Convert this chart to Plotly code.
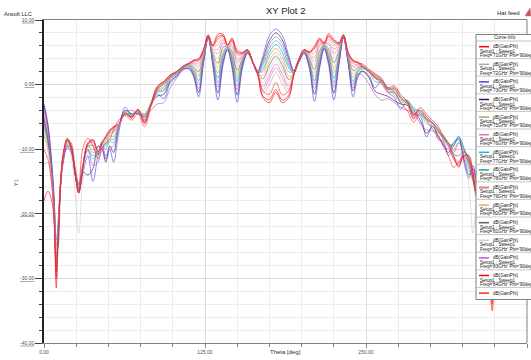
import plotly.graph_objects as go

# Far-field cut: dB(GainPhi) versus Theta for a frequency sweep (Phi = 90deg)
theta = [0, 3, 6, 8, 9.5, 11, 13, 15, 18, 21, 24, 27, 30, 34, 38, 42, 45, 48, 51, 54, 58, 63, 68, 73, 78, 83, 88, 93, 98, 103, 108, 113,
         116.5, 120, 124, 127.5, 131, 135, 139, 142.5, 146, 150, 154, 158, 162, 166, 170, 175, 180, 185, 190, 194, 198, 202, 206, 210, 214, 217.5, 221, 225, 229, 232.5, 236, 240, 243.5,
         247, 252, 257, 262, 267, 272, 277, 282, 287, 292, 297, 302, 306, 310, 314, 318, 322, 326, 330, 333, 336, 339, 342, 345, 348, 350.5, 353, 356, 360]

gain_71 = [-5.0, -8.5, -14.0, -21.0, -31.5, -24.0, -15.0, -11.0, -8.3, -9.5, -13.5, -16.8, -13.0, -9.0, -8.5, -10.5, -9.0, -8.0, -7.0, -6.5, -6.2, -4.5, -5.2, -3.8, -6.0, -3.0, -0.3, 0.5, 1.5, 2.0, 2.8, 3.3,
           3.8, 4.0, 5.5, 7.7, 6.1, 7.8, 7.8, 6.1, 7.2, 5.3, 5.0, 5.4, 3.5, 1.5, -2.0, -2.8, -1.2, -2.8, -2.0, 1.5, 4.0, 5.4, 5.1, 6.0, 7.2, 6.5, 7.9, 7.0, 6.5, 7.7, 5.0, 3.8, 3.5,
           3.0, 2.2, 1.5, 0.8, -0.8, -0.5, -2.0, -3.0, -5.3, -4.0, -5.0, -6.0, -7.0, -8.5, -9.5, -11.5, -12.5, -10.5, -11.5, -14.0, -17.0, -15.5, -19.0, -26.0, -34.0, -22.0, -13.0, -8.0, -5.0]
gain_72 = [-4.5, -7.8, -13.5, -20.5, -30.0, -23.5, -15.0, -11.0, -8.4, -9.5, -13.5, -16.7, -13.0, -9.1, -8.6, -10.5, -9.0, -8.1, -7.0, -6.6, -6.2, -4.5, -5.1, -3.8, -5.9, -3.0, -0.4, 0.4, 1.4, 2.0, 2.8, 3.2,
           3.6, 3.6, 5.4, 7.6, 5.8, 6.3, 7.2, 6.0, 6.6, 4.5, 4.7, 5.4, 3.5, 1.6, -1.3, 0.0, 1.8, 0.1, -1.3, 1.5, 3.9, 5.4, 4.9, 4.9, 6.6, 6.4, 7.0, 6.2, 6.3, 7.7, 5.0, 3.5, 3.3,
           3.0, 2.2, 1.5, 0.8, -0.8, -0.5, -2.0, -3.0, -5.2, -4.0, -5.0, -6.0, -7.0, -8.5, -9.5, -11.4, -12.4, -10.5, -11.4, -14.0, -17.0, -15.5, -19.0, -26.0, -33.5, -22.0, -13.0, -8.0, -4.5]
gain_73 = [-3.0, -6.0, -12.0, -18.0, -26.0, -25.0, -15.5, -12.0, -9.8, -10.5, -13.5, -16.5, -14.0, -11.0, -15.0, -11.0, -9.5, -11.5, -10.0, -12.0, -7.5, -3.5, -4.8, -4.2, -5.5, -3.2, -1.5, -2.2, 0.3, 1.2, 2.5, 2.3,
           1.0, -1.9, 3.5, 7.2, 3.0, -2.4, 3.0, 5.5, 2.5, -2.7, 2.5, 4.8, 3.5, 2.2, 4.5, 7.6, 8.6, 7.6, 4.5, 2.2, 3.5, 4.8, 2.5, -2.6, 2.5, 5.5, 3.0, -2.4, 3.0, 7.2, 3.5, -1.9, 1.0,
           2.0, 1.5, -0.5, 0.5, -1.2, -2.0, -3.8, -2.5, -4.5, -4.8, -8.1, -6.0, -8.5, -8.8, -11.0, -9.5, -8.1, -12.0, -14.5, -12.5, -15.0, -18.0, -23.0, -28.0, -24.0, -17.0, -11.0, -6.5, -3.5]
gain_74 = [-3.3, -6.5, -12.5, -18.5, -27.0, -22.5, -15.0, -11.5, -9.5, -10.2, -13.8, -16.2, -13.5, -14.0, -13.0, -9.5, -10.0, -12.0, -9.5, -10.5, -6.5, -4.0, -4.5, -4.5, -5.0, -3.0, -1.8, -1.5, 0.5, 1.4, 2.4, 2.5,
           1.3, -1.2, 3.7, 7.3, 3.4, -1.3, 3.5, 5.4, 3.0, -1.6, 2.8, 4.9, 3.5, 2.0, 3.9, 6.8, 8.0, 6.9, 4.0, 2.1, 3.6, 4.9, 2.8, -1.5, 3.0, 5.6, 3.5, -1.3, 3.4, 7.3, 3.7, -1.0, 1.4,
           2.1, 1.2, -1.0, -1.5, -1.8, -2.5, -3.0, -3.2, -4.0, -5.5, -7.5, -6.5, -8.0, -9.2, -10.5, -9.0, -8.5, -11.5, -14.0, -13.0, -15.5, -19.0, -24.0, -29.0, -25.0, -17.5, -11.5, -7.0, -3.8]
gain_75 = [-12.5, -12.0, -15.0, -20.0, -25.0, -21.5, -14.5, -10.8, -9.0, -10.0, -13.0, -15.8, -12.5, -9.5, -10.5, -10.5, -8.8, -9.2, -8.0, -8.0, -6.3, -4.5, -4.6, -4.0, -4.5, -2.8, -0.8, -0.5, 1.2, 1.8, 2.7, 3.0,
           2.3, 1.2, 4.5, 7.5, 4.3, 1.8, 5.0, 5.8, 4.4, 1.1, 3.7, 5.2, 3.5, 1.9, 2.0, 4.4, 5.6, 4.3, 2.0, 1.8, 3.8, 5.2, 3.5, 1.2, 4.4, 6.0, 4.8, 1.8, 4.6, 7.5, 4.3, 1.1, 2.2,
           2.7, 2.0, 1.2, 0.4, -0.6, -1.0, -2.2, -2.8, -4.0, -4.0, -5.2, -6.2, -6.8, -8.0, -9.0, -10.0, -9.0, -10.0, -12.0, -15.0, -16.0, -16.5, -20.0, -25.0, -30.0, -20.5, -13.0, -8.0, -6.5]
gain_76 = [-5.0, -8.0, -13.5, -20.5, -28.0, -23.0, -15.2, -11.0, -8.6, -9.6, -13.5, -16.5, -13.0, -9.3, -9.0, -10.5, -9.0, -8.3, -7.2, -6.8, -6.2, -4.5, -5.0, -3.9, -5.6, -3.0, -0.5, 0.3, 1.3, 1.9, 2.8, 3.2,
           3.2, 2.8, 5.1, 7.6, 5.3, 4.8, 6.5, 6.0, 5.8, 3.4, 4.4, 5.3, 3.5, 1.6, -0.3, 1.5, 3.2, 1.6, -0.3, 1.6, 3.9, 5.3, 4.5, 3.6, 6.0, 6.3, 6.2, 4.8, 5.9, 7.6, 4.8, 2.8, 3.0,
           2.9, 2.2, 1.3, 0.7, -0.7, -0.6, -2.1, -2.9, -5.0, -4.0, -5.0, -6.0, -7.2, -8.4, -9.6, -11.2, -12.0, -10.5, -11.3, -14.0, -17.0, -15.5, -19.5, -26.0, -32.0, -21.5, -13.0, -8.0, -5.0]
gain_77 = [-6.5, -9.0, -14.0, -19.5, -24.0, -21.0, -14.5, -11.0, -9.0, -9.8, -13.0, -15.5, -12.8, -10.3, -11.5, -10.5, -9.2, -10.0, -8.8, -9.0, -6.5, -4.5, -4.6, -4.3, -4.8, -3.0, -1.2, -1.0, 0.8, 1.6, 2.6, 2.8,
           1.8, 0.0, 4.0, 7.4, 3.9, 0.3, 4.3, 5.6, 3.7, -0.2, 3.2, 5.1, 3.5, 1.7, 3.0, 5.6, 6.8, 5.7, 3.0, 1.8, 3.7, 5.1, 3.2, 0.0, 3.7, 5.8, 4.2, 0.3, 4.1, 7.4, 4.0, 0.0, 1.8,
           2.4, 2.0, 0.5, 0.2, -0.8, -1.6, -2.8, -2.6, -3.8, -4.5, -6.0, -6.5, -7.5, -8.0, -9.5, -9.0, -8.0, -10.0, -13.0, -14.0, -15.0, -17.5, -22.0, -27.0, -27.5, -19.0, -12.0, -8.0, -6.0]
gain_78 = [-6.0, -8.8, -13.5, -19.0, -26.0, -22.0, -15.0, -11.2, -8.9, -9.8, -13.5, -16.0, -13.0, -10.0, -11.0, -10.8, -9.0, -9.5, -8.5, -8.5, -6.5, -4.3, -4.8, -4.0, -5.0, -3.2, -1.0, -0.8, 1.0, 1.7, 2.7, 2.9,
           2.1, 0.6, 4.3, 7.5, 4.0, 1.0, 4.6, 5.8, 4.1, 0.5, 3.5, 5.2, 3.5, 1.9, 2.4, 5.0, 6.2, 5.0, 2.6, 1.8, 3.8, 5.2, 3.3, 0.6, 4.0, 6.0, 4.5, 1.0, 4.3, 7.5, 4.1, 0.5, 2.0,
           2.6, 2.2, 1.0, 0.6, -0.5, -1.2, -2.5, -2.4, -3.6, -4.2, -5.5, -6.0, -7.2, -7.8, -9.2, -9.4, -8.2, -9.8, -12.5, -14.5, -15.8, -17.0, -21.0, -26.0, -28.5, -20.0, -12.5, -7.5, -5.5]
gain_79 = [-8.0, -10.0, -15.0, -21.0, -27.0, -23.0, -15.0, -11.0, -8.5, -9.6, -13.5, -16.6, -13.0, -9.2, -8.8, -10.5, -9.0, -8.2, -7.1, -6.7, -6.2, -4.5, -5.1, -3.8, -5.8, -3.0, -0.4, 0.4, 1.4, 1.9, 2.8, 3.2,
           3.4, 3.2, 5.3, 7.6, 5.5, 5.5, 6.9, 6.0, 6.2, 3.9, 4.5, 5.3, 3.5, 1.6, -0.8, 0.9, 2.6, 1.0, -0.8, 1.6, 3.9, 5.3, 4.7, 4.2, 6.3, 6.3, 6.5, 5.5, 6.1, 7.6, 4.9, 3.2, 3.1,
           2.9, 2.2, 1.4, 0.7, -0.7, -0.5, -2.0, -3.0, -5.1, -4.0, -5.0, -6.0, -7.0, -8.5, -9.4, -11.3, -12.2, -10.5, -11.3, -14.0, -17.0, -15.5, -19.5, -26.5, -33.0, -22.0, -13.0, -8.0, -7.5]
gain_80 = [-7.0, -9.5, -14.5, -20.0, -27.0, -22.5, -15.0, -11.0, -8.8, -9.7, -13.3, -16.3, -13.0, -9.6, -10.0, -10.6, -9.0, -9.0, -7.8, -7.5, -6.5, -4.3, -5.0, -4.1, -5.2, -3.0, -0.8, -0.3, 1.1, 1.8, 2.8, 3.0,
           2.5, 1.5, 4.6, 7.5, 4.6, 2.6, 5.4, 5.8, 4.8, 1.6, 3.8, 5.2, 3.5, 1.8, 1.4, 3.6, 5.0, 3.7, 1.3, 1.8, 3.8, 5.2, 3.8, 1.8, 4.8, 6.0, 5.2, 2.6, 4.9, 7.5, 4.5, 1.6, 2.4,
           2.8, 2.0, 1.0, 0.5, -0.7, -0.8, -2.2, -2.6, -4.3, -4.2, -5.6, -6.0, -7.0, -8.2, -9.4, -10.3, -10.0, -10.5, -11.8, -15.0, -16.5, -16.0, -19.5, -25.5, -31.0, -21.0, -12.5, -7.8, -6.0]
gain_81 = [-5.5, -8.5, -14.0, -20.5, -29.0, -23.0, -15.0, -10.8, -8.7, -9.7, -13.5, -16.5, -13.0, -9.5, -9.5, -10.8, -9.0, -8.6, -7.5, -7.2, -6.3, -4.4, -5.0, -4.0, -5.4, -3.0, -0.6, 0.0, 1.2, 1.9, 2.8, 3.1,
           2.7, 2.0, 4.8, 7.5, 4.8, 3.3, 5.8, 5.9, 5.1, 2.2, 4.0, 5.3, 3.5, 1.8, 0.9, 3.0, 4.4, 3.0, 0.8, 1.7, 3.8, 5.3, 4.0, 2.4, 5.2, 6.1, 5.5, 3.4, 5.2, 7.6, 4.6, 2.2, 2.6,
           2.8, 2.1, 1.2, 0.6, -0.6, -0.7, -2.0, -2.8, -4.6, -4.0, -5.3, -6.0, -7.2, -8.3, -9.4, -10.8, -11.0, -10.3, -11.5, -14.5, -16.8, -16.0, -20.0, -27.0, -31.5, -21.0, -12.8, -7.5, -5.5]
gain_82 = [-7.5, -10.0, -15.0, -21.0, -26.0, -22.0, -14.8, -11.0, -8.8, -11.0, -16.0, -23.0, -15.0, -9.8, -9.3, -10.5, -9.0, -8.5, -7.3, -7.0, -6.2, -4.5, -4.9, -3.9, -5.5, -3.0, -0.5, 0.2, 1.3, 1.9, 2.8, 3.1,
           3.0, 2.4, 5.0, 7.6, 5.1, 4.0, 6.2, 5.9, 5.5, 2.8, 4.2, 5.3, 3.5, 1.7, 0.3, 2.2, 3.8, 2.3, 0.2, 1.7, 3.9, 5.3, 4.3, 3.0, 5.6, 6.2, 5.8, 4.0, 5.5, 7.6, 4.7, 2.7, 2.8,
           2.9, 2.2, 1.4, 0.8, -0.5, -0.6, -2.0, -2.9, -4.8, -4.0, -5.2, -6.2, -7.3, -8.5, -9.5, -11.0, -11.8, -12.0, -16.0, -23.0, -18.0, -15.5, -19.0, -25.0, -29.0, -21.5, -13.0, -8.5, -7.0]
gain_83 = [-4.0, -7.0, -13.0, -19.0, -28.0, -23.0, -15.5, -11.8, -9.3, -10.0, -13.2, -16.0, -12.5, -10.0, -12.5, -12.0, -9.0, -11.0, -9.8, -9.5, -6.8, -4.2, -4.0, -4.6, -4.6, -4.0, -3.0, -2.8, -0.5, 1.0, 2.2, 2.6,
           1.6, -0.6, 3.8, 7.3, 3.7, -0.4, 3.9, 5.5, 3.4, -0.8, 3.0, 5.0, 3.5, 1.8, 3.4, 6.2, 7.4, 6.3, 3.5, 1.9, 3.7, 5.0, 3.0, -0.6, 3.4, 5.7, 3.9, -0.4, 3.8, 7.4, 3.9, -0.5, 1.6,
           1.5, 0.2, -1.5, -2.4, -2.2, -2.8, -3.5, -4.0, -4.3, -6.0, -7.0, -7.2, -7.8, -9.5, -10.0, -10.5, -9.0, -11.0, -13.5, -13.5, -16.0, -19.5, -25.0, -30.0, -26.0, -18.0, -12.0, -7.5, -4.2]
gain_84 = [-18.0, -16.5, -18.0, -22.0, -30.0, -24.0, -15.0, -10.8, -8.5, -9.4, -13.5, -16.8, -13.2, -9.2, -8.6, -10.4, -9.0, -8.0, -7.2, -6.6, -6.0, -4.6, -5.0, -3.9, -5.8, -3.1, -0.3, 0.5, 1.5, 2.0, 2.8, 3.3,
           3.7, 3.9, 5.5, 7.6, 6.0, 7.4, 7.6, 6.1, 7.0, 5.0, 4.9, 5.4, 3.5, 1.5, -1.8, -2.3, -0.8, -2.4, -1.7, 1.5, 4.0, 5.4, 5.0, 5.7, 7.0, 6.4, 7.6, 6.8, 6.4, 7.7, 5.0, 3.7, 3.4,
           3.2, 2.4, 1.7, 1.0, -0.5, -0.2, -1.6, -2.6, -4.8, -3.6, -4.6, -5.6, -6.5, -8.0, -9.0, -11.0, -12.8, -11.0, -11.0, -13.5, -16.5, -16.0, -20.0, -27.0, -35.0, -22.5, -13.5, -8.5, -5.2]
gain_phi = [-10.0, -11.5, -15.5, -21.0, -29.0, -23.0, -14.5, -10.5, -8.6, -9.0, -12.5, -15.5, -10.0, -8.3, -9.5, -11.5, -10.0, -9.0, -8.5, -7.0, -5.5, -4.8, -5.5, -4.5, -6.5, -3.5, -0.8, 0.2, 1.2, 2.0, 2.9, 3.4,
            3.8, 3.7, 5.4, 7.5, 6.0, 7.0, 7.5, 6.2, 6.8, 4.8, 4.8, 5.3, 3.6, 1.8, -1.0, -1.5, 0.3, -1.6, -1.0, 1.8, 4.0, 5.3, 5.0, 5.5, 6.8, 6.3, 7.4, 6.6, 6.3, 7.6, 5.1, 3.6, 3.4,
            2.8, 2.0, 1.0, 0.2, -1.2, -1.2, -2.8, -4.0, -5.8, -4.5, -5.5, -7.0, -8.0, -9.5, -11.0, -12.8, -12.0, -11.0, -12.0, -14.5, -17.5, -16.0, -20.0, -27.0, -33.0, -22.0, -13.5, -8.5, -6.0]

freq_labels = ["71GHz", "72GHz", "73GHz", "74GHz", "75GHz", "76GHz", "77GHz",
               "78GHz", "79GHz", "80GHz", "81GHz", "82GHz", "83GHz", "84GHz"]
curve_colors = ["#ff0000", "#c89cc0", "#4646e6", "#3c0c58", "#a8a862", "#f064c8", "#1fb8c8",
                "#16a0a0", "#d88282", "#f4a860", "#606060", "#cfcfcf", "#c050d0", "#ff0000", "#ff2a2a"]
x_ticks = [0, 125, 250, 375]
x_tick_text = ["0.00", "125.00", "250.00", "375.00"]
y_ticks = [-40, -30, -20, -10, 0, 10]
y_tick_text = ["-40.00", "-30.00", "-20.00", "-10.00", "0.00", "10.00"]

series = [gain_71, gain_72, gain_73, gain_74, gain_75, gain_76, gain_77,
          gain_78, gain_79, gain_80, gain_81, gain_82, gain_83, gain_84, gain_phi]

FONT = "Liberation Sans, Arial, sans-serif"
W, H = 531, 360
L, R, T, B = 44, 4, 20, 17
PW, PH = W - L - R, H - T - B


def fx(px):
    return (px - L) / PW


def fy(py):
    return (H - B - py) / PH


fig = go.Figure()
for vals, col in zip(series, curve_colors):
    fig.add_trace(go.Scatter(x=theta, y=vals, mode="lines", opacity=0.9,
                             line=dict(color=col, width=0.7, shape="spline", smoothing=1.0),
                             hoverinfo="skip", showlegend=False))

shapes = []
annotations = []

# right border of the plotting frame
shapes.append(dict(type="line", xref="paper", yref="paper", x0=1, x1=1, y0=0, y1=1,
                   line=dict(color="#808080", width=1), layer="above"))

# "Curve Info" box
bx0, bx1, by0, by1 = 476, 545, 34.5, 299.5
shapes.append(dict(type="rect", xref="paper", yref="paper", x0=fx(bx0), x1=fx(bx1),
                   y0=fy(by1), y1=fy(by0), fillcolor="white",
                   line=dict(color="#808080", width=1), layer="above"))
annotations.append(dict(x=fx(505), y=fy(37.6), xref="paper", yref="paper", text="Curve Info",
                        showarrow=False, xanchor="center", yanchor="middle",
                        font=dict(family=FONT, size=4.6, color="#202020")))

step = 17.6
for k in range(15):
    sep = 41 + step * k
    shapes.append(dict(type="line", xref="paper", yref="paper", x0=fx(bx0), x1=fx(bx1),
                       y0=fy(sep), y1=fy(sep), line=dict(color="#a0a0a0", width=0.6), layer="above"))
    ly = 46.7 + step * k
    shapes.append(dict(type="line", xref="paper", yref="paper", x0=fx(479), x1=fx(489),
                       y0=fy(ly), y1=fy(ly),
                       line=dict(color=curve_colors[k], width=2 if k == 8 else 1.5), layer="above"))
    annotations.append(dict(x=fx(491), y=fy(ly), xref="paper", yref="paper", text="dB(GainPhi)",
                            showarrow=False, xanchor="left", yanchor="middle",
                            font=dict(family=FONT, size=4.6, color="#202020")))
    if k < len(freq_labels):
        annotations.append(dict(x=fx(477.5), y=fy(ly + 4.5), xref="paper", yref="paper",
                                text="Setup1 : Sweep1", showarrow=False, xanchor="left",
                                yanchor="middle", font=dict(family=FONT, size=4.6, color="#202020")))
        annotations.append(dict(x=fx(477.5), y=fy(ly + 8.8), xref="paper", yref="paper",
                                text="Freq='%s' Phi='90deg'" % freq_labels[k], showarrow=False,
                                xanchor="left", yanchor="middle",
                                font=dict(family=FONT, size=4.6, color="#202020")))

# titles and captions
annotations += [
    dict(x=fx(285), y=fy(10), xref="paper", yref="paper", text="XY Plot 2", showarrow=False,
         xanchor="center", yanchor="middle", font=dict(family=FONT, size=9.5, color="#202020")),
    dict(x=fx(1.5), y=fy(14), xref="paper", yref="paper", text="Ansoft LLC", showarrow=False,
         xanchor="left", yanchor="middle", font=dict(family=FONT, size=5.6, color="#202020")),
    dict(x=fx(522), y=fy(13), xref="paper", yref="paper", text="Hat feed", showarrow=False,
         xanchor="right", yanchor="middle", font=dict(family=FONT, size=6, color="#202020")),
    dict(x=fx(285), y=fy(351.5), xref="paper", yref="paper", text="Theta [deg]", showarrow=False,
         xanchor="center", yanchor="middle", font=dict(family=FONT, size=6, color="#303030")),
    dict(x=fx(16), y=fy(183), xref="paper", yref="paper", text="Y1", showarrow=False,
         textangle=-90, xanchor="center", yanchor="middle",
         font=dict(family=FONT, size=5.5, color="#303030")),
]

# small logo mark next to the caption
shapes.append(dict(type="path", xref="paper", yref="paper",
                   path="M %f %f L %f %f L %f %f Z" % (fx(525), fy(16), fx(530), fy(8), fx(531), fy(16)),
                   fillcolor="#d05050", line=dict(color="#909090", width=0.5), layer="above"))

fig.update_layout(
    width=W, height=H,
    margin=dict(l=L, r=R, t=T, b=B),
    paper_bgcolor="white", plot_bgcolor="white",
    showlegend=False,
    font=dict(family=FONT),
    shapes=shapes, annotations=annotations,
    xaxis=dict(range=[0, 375], tickmode="array", tickvals=x_ticks, ticktext=x_tick_text,
               ticks="outside", ticklen=4, tickwidth=1, tickcolor="#808080",
               tickfont=dict(family=FONT, size=5, color="#505050"),
               showline=True, linecolor="#808080", linewidth=1, mirror=True,
               showgrid=True, gridcolor="#dcdcdc", gridwidth=1, zeroline=False,
               minor=dict(tickvals=[25, 50, 75, 100, 150, 175, 200, 225, 275, 300, 325, 350],
                          ticks="outside", ticklen=3, tickcolor="#808080",
                          showgrid=True, gridcolor="#ececec", gridwidth=1)),
    yaxis=dict(range=[-40, 10], tickmode="array", tickvals=y_ticks,
               ticktext=["<u>%s</u>" % t for t in y_tick_text],
               ticks="outside", ticklen=7, tickwidth=1, tickcolor="#404040",
               tickfont=dict(family=FONT, size=5, color="#505050"),
               showline=True, linecolor="#202020", linewidth=1.5,
               showgrid=True, gridcolor="#dcdcdc", gridwidth=1, zeroline=False,
               minor=dict(tickvals=[v for v in range(-38, 10, 2) if v % 10 != 0],
                          ticks="outside", ticklen=3, tickcolor="#404040",
                          showgrid=True, gridcolor="#ececec", gridwidth=1)),
)

fig.write_html("out.html")
